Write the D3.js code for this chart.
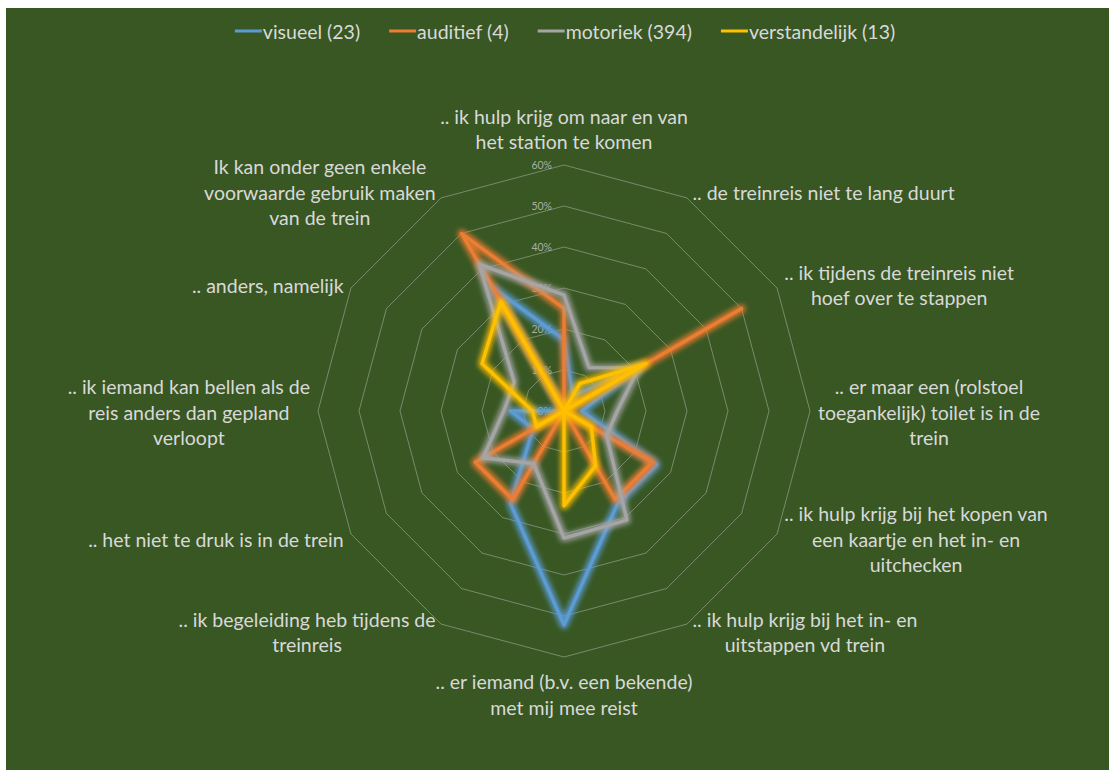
<!DOCTYPE html>
<html><head><meta charset="utf-8">
<script src="https://cdn.jsdelivr.net/npm/d3@7"></script>
<style>html,body{margin:0;padding:0;background:#fff;}svg{display:block;}</style>
</head><body>
<script>
// ---- data ----
const categories = [
  [".. ik hulp krijg om naar en van", "het station te komen"],
  [".. de treinreis niet te lang duurt"],
  [".. ik tijdens de treinreis niet", "hoef over te stappen"],
  [".. er maar een (rolstoel", "toegankelijk) toilet is in de", "trein"],
  [".. ik hulp krijg bij het kopen van", "een kaartje en het in- en", "uitchecken"],
  [".. ik hulp krijg bij het in- en", "uitstappen vd trein"],
  [".. er iemand (b.v. een bekende)", "met mij mee reist"],
  [".. ik begeleiding heb tijdens de", "treinreis"],
  [".. het niet te druk is in de trein"],
  [".. ik iemand kan bellen als de", "reis anders dan gepland", "verloopt"],
  [".. anders, namelijk"],
  ["Ik kan onder geen enkele", "voorwaarde gebruik maken", "van de trein"]
];
const seriesNames = ["visueel (23)", "auditief (4)", "motoriek (394)", "verstandelijk (13)"];
const visueel      = [17.4, 4.3, 21.7, 4.3, 26.1, 26.1, 52.2, 26.1, 8.7, 13.0, 0, 34.8];
const auditief     = [25, 0, 50, 0, 25, 25, 0, 25, 25, 0, 0, 50];
const motoriek     = [28.3, 12.2, 21.0, 13.0, 12.0, 30.7, 31.0, 14.8, 22.8, 14.7, 14.0, 41.3];
const verstandelijk= [0, 7.7, 23.1, 0, 7.7, 15.4, 23.1, 0, 7.7, 7.7, 23.1, 30.8];
const tickValues = [0, 10, 20, 30, 40, 50, 60];
const tickLabels = ["0%", "10%", "20%", "30%", "40%", "50%", "60%"];
const colors = ["#5B9BD5", "#ED7D31", "#A5A5A5", "#FFC000"];

// ---- layout ----
const W = 1109, H = 770;
const cx = 564, cy = 411;
const FONT = "Lato, 'Open Sans', sans-serif";
const FS = 19.5, LH = 25.5;
const textColor = "#d9d9d9";

const svg = d3.select("body").append("svg").attr("width", W).attr("height", H);
svg.append("rect").attr("width", W).attr("height", H).attr("fill", "#ffffff");
svg.append("rect").attr("x", 6).attr("y", 8).attr("width", W - 6).attr("height", H - 8).attr("fill", "#385723");

const defs = svg.append("defs");
colors.forEach((c, i) => {
  const f = defs.append("filter").attr("id", "glow" + i)
    .attr("filterUnits", "userSpaceOnUse").attr("x", -W).attr("y", -H).attr("width", 2 * W).attr("height", 2 * H);
  f.append("feMorphology").attr("in", "SourceGraphic").attr("operator", "dilate").attr("radius", 1.6).attr("result", "d");
  f.append("feGaussianBlur").attr("in", "d").attr("stdDeviation", 2.4).attr("result", "b");
  f.append("feComponentTransfer").attr("in", "b").attr("result", "bt")
    .append("feFuncA").attr("type", "linear").attr("slope", 0.85);
  const m = f.append("feMerge");
  m.append("feMergeNode").attr("in", "bt");
  m.append("feMergeNode").attr("in", "SourceGraphic");
});

const n = categories.length;
const r = d3.scaleLinear().domain([0, 60]).range([0, 246]);
const ang = d3.scaleLinear().domain([0, n]).range([0, 2 * Math.PI]);

const g = svg.append("g").attr("transform", `translate(${cx},${cy})`);

// rings
const ringLine = d3.lineRadial().angle((d, i) => ang(i)).radius(d => r(d)).curve(d3.curveLinearClosed);
tickValues.filter(t => t > 0).forEach(t => {
  g.append("path").attr("d", ringLine(d3.range(n).map(() => t)))
    .attr("fill", "none").attr("stroke", "rgba(210,210,210,0.42)").attr("stroke-width", 1);
});

// tick labels
g.selectAll("text.tick").data(tickValues).enter().append("text")
  .attr("class", "tick")
  .attr("x", -12).attr("y", d => -r(d))
  .attr("text-anchor", "end").attr("dominant-baseline", "central")
  .attr("font-family", FONT).attr("font-size", 10.5)
  .attr("fill", "#c8c8c8").attr("fill-opacity", 0.8)
  .text((d, i) => tickLabels[i]);

// series
const seriesData = [visueel, auditief, motoriek, verstandelijk];
const line = d3.lineRadial().angle((d, i) => ang(i)).radius(d => r(d)).curve(d3.curveLinearClosed);
seriesData.forEach((vals, si) => {
  g.append("path").attr("d", line(vals))
    .attr("fill", "none").attr("stroke", colors[si]).attr("stroke-width", 3.3)
    .attr("stroke-linejoin", "round")
    .attr("filter", `url(#glow${si})`);
});

// category labels
categories.forEach((lines, i) => {
  const a = ang(i);
  const deg = Math.round(a * 180 / Math.PI);
  const vx = r(60) * Math.sin(a), vy = -r(60) * Math.cos(a);
  const t = g.append("text").attr("font-family", FONT).attr("font-size", FS)
    .attr("fill", textColor).attr("text-anchor", "middle");
  const spans = lines.map(s => t.append("tspan").text(s).attr("dominant-baseline", "central"));
  const w = d3.max(spans, s => s.node().getComputedTextLength());
  let bx, firstY;
  if (deg === 0) {
    bx = vx; firstY = vy - 23.5 - (lines.length - 1) * LH;
  } else if (deg === 180) {
    bx = vx; firstY = vy + 24.5;
  } else {
    const pad = 3 + 5 * Math.abs(Math.sin(a));
    bx = deg < 180 ? vx + pad + w / 2 : vx - pad - w / 2;
    const ycen = vy - 8 * Math.cos(a) + 1;
    firstY = ycen - (lines.length - 1) * LH / 2;
  }
  spans.forEach((s, k) => s.attr("x", bx).attr("y", firstY + k * LH));
});

// legend
const lg = svg.append("g");
const items = seriesNames.map((name, i) => {
  const it = lg.append("g");
  it.append("line").attr("x1", 0).attr("x2", 27).attr("y1", 0).attr("y2", 0)
    .attr("stroke", colors[i]).attr("stroke-width", 3);
  const tx = it.append("text").attr("x", 28).attr("y", 0).attr("dominant-baseline", "central")
    .attr("font-family", FONT).attr("font-size", FS).attr("fill", textColor).text(name);
  return { it, w: 28 + tx.node().getComputedTextLength() };
});
const gap = 29;
const total = d3.sum(items, d => d.w) + gap * (items.length - 1);
let x0 = 565 - total / 2;
items.forEach(d => { d.it.attr("transform", `translate(${x0},31)`); x0 += d.w + gap; });
</script>
</body></html>
